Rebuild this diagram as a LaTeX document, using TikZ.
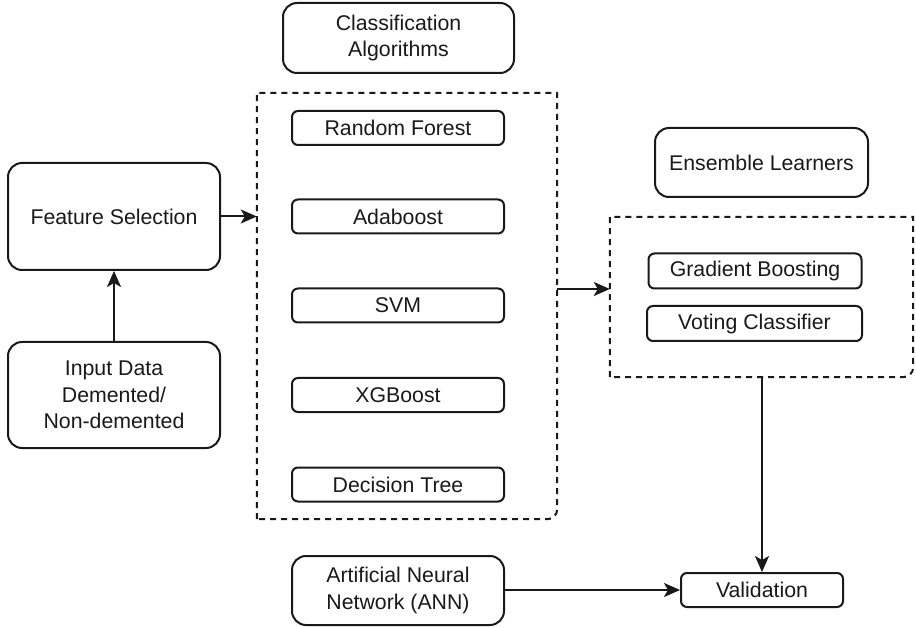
\documentclass[tikz,border=0pt]{standalone}
\usepackage{fontspec}
\setmainfont{Liberation Sans}
\usetikzlibrary{arrows.meta,calc}

\tikzset{
  box/.style={draw=black!90, line width=2pt, rounded corners=14pt, align=center,
    inner sep=0pt, text=black!90, font=\fontsize{21.3}{26.5}\selectfont},
  item/.style={box, rounded corners=6pt, minimum width=212pt, minimum height=34pt},
  group/.style={draw=none, inner sep=0pt},
  groupline/.style={draw=black!90, line width=2pt, dash pattern=on 6pt off 5pt},
  arrow/.style={draw=black!90, line width=2pt, -{Stealth[length=16pt 0,width=14pt 0,inset=4pt 0]}}
}

\begin{document}
\begin{tikzpicture}[x=1pt,y=-1pt]
  \useasboundingbox (0,0) rectangle (916,628);

  % left column
  \node[box, minimum width=212pt, minimum height=107pt] (fs) at (114,216.5) {Feature Selection};
  \node[box, minimum width=212pt, minimum height=106pt] (inp) at (114,395) {Input Data\\Demented/\\Non-demented};

  % classification algorithms
  \node[box, minimum width=231pt, minimum height=70pt] (clsTitle) at (398.5,38) {Classification\\Algorithms};
  \node[group, minimum width=300pt, minimum height=426pt] (cls) at (407,306) {};
  \draw[groupline, rounded corners=0pt] (cls.south west) -- (cls.north west) -- (cls.north east)
    [rounded corners=10pt] -- (cls.south east) [rounded corners=0pt] -- cycle;
  \node[item] (rf)  at (398,128)   {Random Forest};
  \node[item] (ada) at (398,216.5) {Adaboost};
  \node[item] (svm) at (398,305.5) {SVM};
  \node[item] (xgb) at (398,395)   {XGBoost};
  \node[item] (dt)  at (398,484.5) {Decision Tree};

  % ensemble learners
  \node[box, minimum width=213pt, minimum height=69pt] (ensTitle) at (761.5,162.5) {Ensemble Learners};
  \node[group, minimum width=303pt, minimum height=160pt] (ens) at (761.5,297) {};
  \draw[groupline, rounded corners=0pt] (ens.south west) -- (ens.north west) -- (ens.north east)
    [rounded corners=10pt] -- (ens.south east) [rounded corners=0pt] -- cycle;
  \node[item, minimum width=213pt, minimum height=35pt] (gb) at (755,271) {Gradient Boosting};
  \node[item, minimum width=215pt, minimum height=35pt] (vc) at (754.5,323.5) {Voting Classifier};

  % bottom row
  \node[box, minimum width=212pt, minimum height=69pt] (ann) at (398,590.5) {Artificial Neural\\Network (ANN)};
  \node[item, minimum width=162pt] (val) at (762,590) {Validation};

  % connectors
  \coordinate (link) at (583,289);
  \draw[arrow] (inp.north) -- (fs.south);
  \draw[arrow] (fs.east) -- (fs.east -| cls.west);
  \draw[arrow] (cls.east |- link) -- (ens.west |- link);
  \draw[arrow] (ens.south -| val.north) -- (val.north);
  \draw[arrow] (ann.east |- val.west) -- (val.west);
\end{tikzpicture}
\end{document}
